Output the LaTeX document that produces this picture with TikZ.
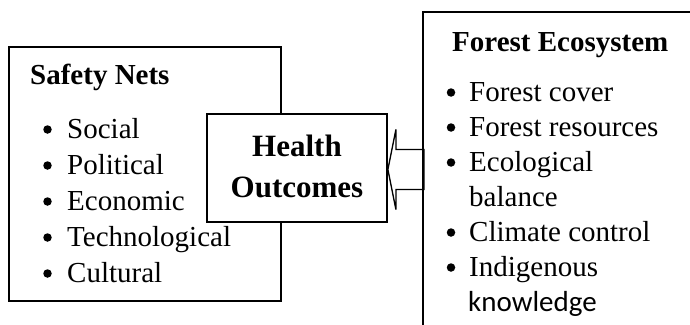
\documentclass[tikz,border=0pt]{standalone}
\usepackage{fontspec}
\setmainfont{Liberation Serif}
\newfontfamily\calibrifont{Carlito}

\tikzset{
  boxline/.style={draw, line width=1.8pt, inner sep=0pt},
  headtxt/.style={anchor=base west, inner sep=0pt, font=\bfseries\fontsize{29}{35}\selectfont},
  itemtxt/.style={anchor=base west, inner sep=0pt, font=\fontsize{29}{35}\selectfont},
  bulletdot/.style={circle, fill=black, inner sep=0pt, minimum size=8.5pt},
}

\begin{document}
\begin{tikzpicture}[x=1pt,y=-1pt]

\useasboundingbox (0,0) rectangle (690,324);
\clip (0,0) rectangle (690,324);

%safety nets, left box
\node[boxline, minimum width=272pt, minimum height=254pt] (safety) at (145,174) {};
\node[headtxt] (sn-title) at (30,84) {Safety Nets};
\node[bulletdot] (sn-b1) at (47.5,129.5) {};
\node[itemtxt] (sn-social) at (67,138) {Social};
\node[bulletdot] (sn-b2) at (47.5,165.5) {};
\node[itemtxt] (sn-polit) at (67,174) {Political};
\node[bulletdot] (sn-b3) at (47.5,201.5) {};
\node[itemtxt] (sn-econ) at (67,210) {Economic};
\node[bulletdot] (sn-b4) at (47.5,237.5) {};
\node[itemtxt] (sn-tech) at (67,246) {Technological};
\node[bulletdot] (sn-b5) at (47.5,273.5) {};
\node[itemtxt] (sn-cult) at (67,282) {Cultural};

%forest ecosystem, right box (runs off the page)
\node[boxline, minimum width=277pt, minimum height=328pt] (forest) at (561.5,176) {};
\node[headtxt] (fe-title) at (452,51) {Forest Ecosystem};
\node[bulletdot] (fe-b1) at (451,92.5) {};
\node[itemtxt] (fe-cover) at (469,101) {Forest cover};
\node[bulletdot] (fe-b2) at (451,127.5) {};
\node[itemtxt] (fe-res) at (469,136) {Forest resources};
\node[bulletdot] (fe-b3) at (451,162.5) {};
\node[itemtxt] (fe-eco) at (469,171) {Ecological};
\node[itemtxt] (fe-bal) at (469,206) {balance};
\node[bulletdot] (fe-b4) at (451,232.5) {};
\node[itemtxt] (fe-clim) at (469,241) {Climate control};
\node[bulletdot] (fe-b5) at (451,267.5) {};
\node[itemtxt] (fe-indi) at (469,276) {Indigenous};
\node[itemtxt, font=\calibrifont\fontsize{29}{35}\selectfont] (fe-know) at (468,311) {knowledge};

%health outcomes, middle
\node[boxline, fill=white, minimum width=180pt, minimum height=108pt, align=center, text depth=4.5pt,
      font=\bfseries\fontsize{31}{41}\selectfont] (health) at (297,168) {Health\\Outcomes};

%hollow arrow forest -> health
\draw[line width=1.3pt, line join=miter] ([yshift=-1.5pt]health.east) -- ++(8,-40) -- ++(0,20) -- ++(28,0)
  -- ++(0,40) -- ++(-28,0) -- ++(0,20) -- cycle;

\end{tikzpicture}
\end{document}
